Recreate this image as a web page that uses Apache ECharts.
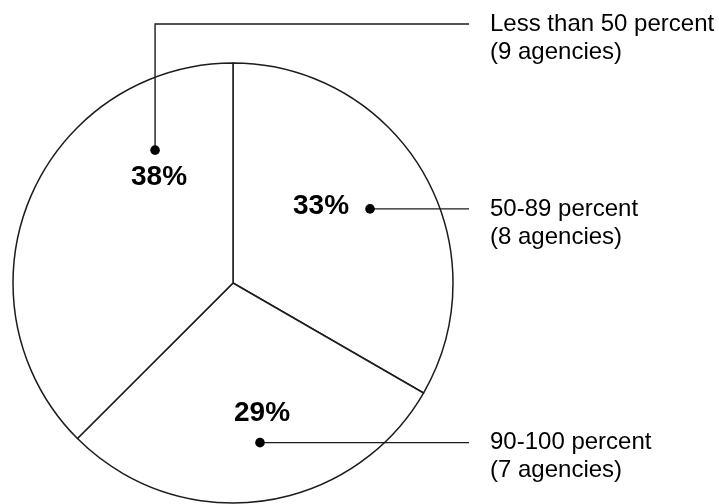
<!DOCTYPE html>
<html>
<head>
<meta charset="utf-8">
<script src="https://cdn.jsdelivr.net/npm/echarts@6/dist/echarts.min.js"></script>
<style>
  html, body { margin: 0; padding: 0; background: #fff; }
  #chart { width: 719px; height: 504px; }
</style>
</head>
<body>
<div id="chart"></div>
<script>
// Share of agencies by percentage band
const categories = ['50-89 percent', '90-100 percent', 'Less than 50 percent'];
const agencyCounts = [8, 7, 9];

// Pie geometry
const CX = 233, CY = 283, R = 220;

// Annotation layout per slice: dot position in polar terms
// (clockwise degrees from 12 o'clock, fraction of radius),
// bold percent label offset from the dot, and leader routing.
const dotAngle = [61.6, 170.4, 329.6];
const dotFrac = [0.708, 0.736, 0.70];
const pctOffset = [[-49, -3], [2, -29], [4, 27]];
const leaderElbowY = [null, null, 24];
const leaderEndX = 469;
const textX = 490;

const FONT = '"Liberation Sans", Arial, Helvetica, sans-serif';
const INK = '#1c1c1c';

const total = agencyCounts.reduce((a, b) => a + b, 0);

const chart = echarts.init(document.getElementById('chart'), null, { renderer: 'canvas' });

const graphics = [];
agencyCounts.forEach((v, i) => {
  const a = dotAngle[i] * Math.PI / 180;
  const dx = CX + dotFrac[i] * R * Math.sin(a);
  const dy = CY - dotFrac[i] * R * Math.cos(a);
  const pct = Math.round(v / total * 100) + '%';

  // leader line
  const pts = [[dx, dy]];
  let ly = dy;
  if (leaderElbowY[i] !== null) {
    ly = leaderElbowY[i];
    pts.push([dx, ly]);
  }
  pts.push([leaderEndX, ly]);
  graphics.push({
    type: 'polyline', z: 10,
    shape: { points: pts },
    style: { stroke: INK, lineWidth: 1.4, fill: null }
  });
  // dot
  graphics.push({
    type: 'circle', z: 11,
    shape: { cx: dx, cy: dy, r: 4.8 },
    style: { fill: '#000' }
  });
  // bold percentage
  graphics.push({
    type: 'text', z: 12,
    x: dx + pctOffset[i][0], y: dy + pctOffset[i][1],
    style: {
      text: pct, font: 'bold 28px ' + FONT, fill: '#000',
      align: 'center', verticalAlign: 'middle'
    }
  });
  // category description
  graphics.push({
    type: 'text', z: 12,
    x: textX, y: ly - 14,
    style: {
      text: categories[i] + '\n(' + v + ' agencies)',
      font: '24px ' + FONT, fill: '#000', lineHeight: 28,
      align: 'left', verticalAlign: 'top'
    }
  });
});

chart.setOption({
  animation: false,
  backgroundColor: '#fff',
  series: [{
    type: 'pie',
    center: [CX, CY],
    radius: R,
    startAngle: 90,
    clockwise: true,
    avoidLabelOverlap: false,
    label: { show: false },
    labelLine: { show: false },
    emphasis: { disabled: true },
    itemStyle: { color: '#fff', borderColor: INK, borderWidth: 1.5 },
    data: agencyCounts.map((v, i) => ({ name: categories[i], value: v }))
  }],
  graphic: graphics
});
</script>
</body>
</html>
